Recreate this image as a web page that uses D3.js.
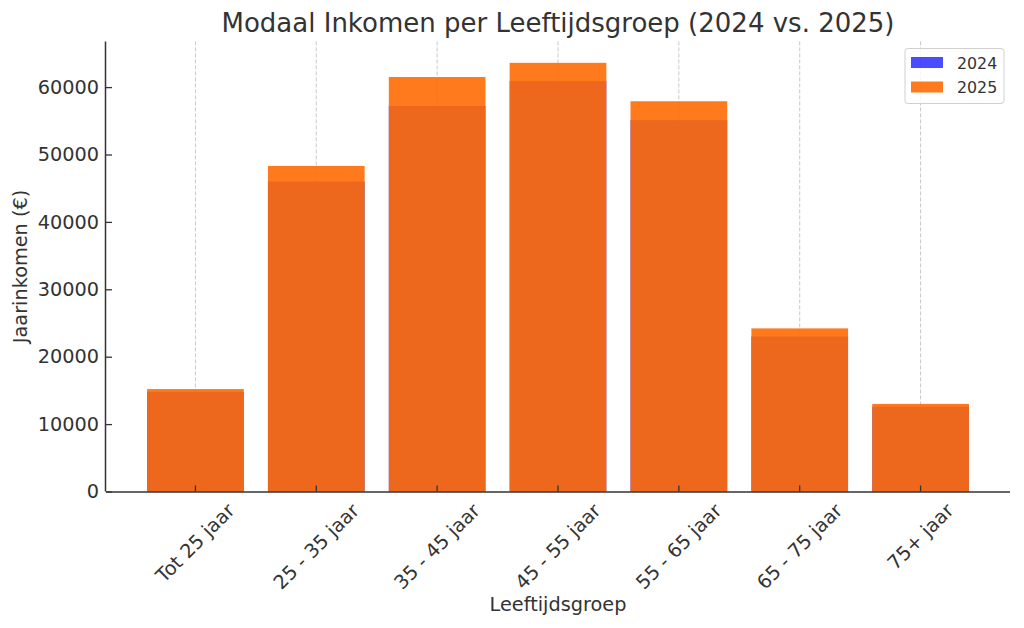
<!DOCTYPE html>
<html>
<head>
<meta charset="utf-8">
<script src="https://cdn.jsdelivr.net/npm/d3@7"></script>
<style>
  body { margin: 0; background: #fff; }
  text { font-family: "DejaVu Sans", sans-serif; fill: #333; }
</style>
</head>
<body>
<svg id="chart"></svg>
<script>
var categories = ['Tot 25 jaar', '25 - 35 jaar', '35 - 45 jaar', '45 - 55 jaar', '55 - 65 jaar', '65 - 75 jaar', '75+ jaar'];
var values2024 = [14800, 46000, 57200, 60900, 55100, 23000, 12600];
var values2025 = [15200, 48300, 61500, 63600, 57900, 24200, 13000];
var yTicks = [0, 10000, 20000, 30000, 40000, 50000, 60000];

var width = 1024, height = 628;
var margin = { top: 41.4, right: 14, bottom: 136.5, left: 106 };
var innerW = width - margin.left - margin.right;
var innerH = height - margin.top - margin.bottom;
var fs = 19.3;

var svg = d3.select('#chart')
  .attr('width', width)
  .attr('height', height);

var x = d3.scaleBand()
  .domain(categories)
  .range([0, innerW])
  .paddingInner(0.2)
  .paddingOuter(0.34);

var y = d3.scaleLinear()
  .domain([0, d3.max(values2025) * 1.05])
  .range([innerH, 0]);

var chart = svg.append('g')
  .attr('transform', `translate(${ margin.left }, ${ margin.top })`);

// vertical dashed grid
chart.selectAll('.grid')
  .data(categories)
  .enter().append('line')
    .attr('x1', d => x(d) + x.bandwidth() / 2)
    .attr('x2', d => x(d) + x.bandwidth() / 2)
    .attr('y1', 0)
    .attr('y2', innerH)
    .attr('stroke', '#c8c8c8')
    .attr('stroke-width', 1)
    .attr('stroke-dasharray', '4,2');

var drawBars = (vals, color, alpha) => {
  chart.append('g').selectAll('rect')
    .data(vals)
    .enter().append('rect')
      .attr('x', (d, i) => x(categories[i]))
      .attr('y', d => y(d))
      .attr('width', x.bandwidth())
      .attr('height', d => innerH - y(d))
      .attr('fill', color)
      .attr('fill-opacity', alpha);
};

drawBars(values2024, '#0000ff', 0.7);
drawBars(values2025, '#ff6c04', 0.9);

// axes
var xAxis = d3.axisBottom(x).tickSize(-6).tickFormat('');
var yAxis = d3.axisLeft(y).tickValues(yTicks).tickSize(-6).tickFormat(d => d);

var gx = chart.append('g')
  .attr('transform', `translate(0, ${ innerH })`)
  .call(xAxis);
var gy = chart.append('g').call(yAxis);

[gx, gy].forEach(g => {
  g.select('.domain').attr('stroke', '#333').attr('stroke-width', 1.5);
  g.selectAll('.tick line').attr('stroke', '#333').attr('stroke-width', 1.3);
});
gx.select('.domain').attr('d', `M0,0.5H${ innerW }`);
gy.select('.domain').attr('d', `M-0.5,${ innerH }V0`);

gy.selectAll('.tick text')
  .attr('x', -7)
  .attr('font-size', fs)
  .attr('font-family', '"DejaVu Sans", sans-serif')
  .attr('fill', '#333');

// rotated x labels
categories.forEach(c => {
  var t = chart.append('text')
    .attr('font-size', fs)
    .attr('text-anchor', 'middle')
    .attr('dominant-baseline', 'central')
    .text(c);
  var w = t.node().getComputedTextLength();
  var h = fs * 1.05;
  var cy = innerH + 8.5 + (w + h) * Math.SQRT1_2 / 2;
  t.attr('transform', `translate(${ x(c) + x.bandwidth() / 2 }, ${ cy }) rotate(-45)`);
});

// axis labels
chart.append('text')
  .attr('x', innerW / 2)
  .attr('y', 611.5 - margin.top)
  .attr('text-anchor', 'middle')
  .attr('font-size', fs)
  .text('Leeftijdsgroep');

chart.append('text')
  .attr('transform', `translate(${ 27 - margin.left }, ${ innerH / 2 }) rotate(-90)`)
  .attr('text-anchor', 'middle')
  .attr('font-size', fs)
  .text('Jaarinkomen (€)');

// title
svg.append('text')
  .attr('x', margin.left + innerW / 2)
  .attr('y', 32)
  .attr('text-anchor', 'middle')
  .attr('font-size', 26)
  .text('Modaal Inkomen per Leeftijdsgroep (2024 vs. 2025)');

// legend
var legend = svg.append('g').attr('transform', 'translate(905, 48.5)');
legend.append('rect')
  .attr('width', 99)
  .attr('height', 55)
  .attr('rx', 3)
  .attr('fill', '#fff')
  .attr('fill-opacity', 0.8)
  .attr('stroke', '#d0d0d0');
var items = [['2024', '#0000ff', 0.7], ['2025', '#ff6c04', 0.9]];
items.forEach((it, i) => {
  legend.append('rect')
    .attr('x', 6)
    .attr('y', 8.5 + i * 24.5)
    .attr('width', 32)
    .attr('height', 11)
    .attr('fill', it[1])
    .attr('fill-opacity', it[2]);
  legend.append('text')
    .attr('x', 52)
    .attr('y', 20 + i * 24.5)
    .attr('font-size', 15.8)
    .text(it[0]);
});
</script>
</body>
</html>
